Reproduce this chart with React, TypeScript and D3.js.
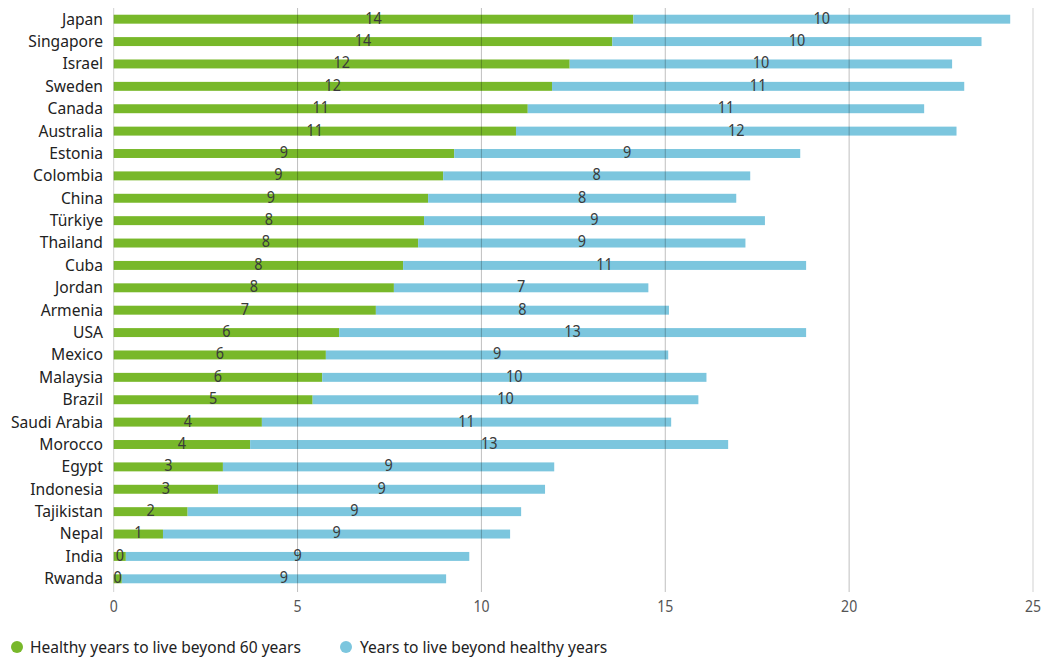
import React from "react";
import * as d3 from "d3";

const countries = [
  "Japan", "Singapore", "Israel", "Sweden", "Canada", "Australia", "Estonia", "Colombia",
  "China", "Türkiye", "Thailand", "Cuba", "Jordan", "Armenia", "USA", "Mexico", "Malaysia",
  "Brazil", "Saudi Arabia", "Morocco", "Egypt", "Indonesia", "Tajikistan", "Nepal", "India", "Rwanda",
];
const healthyYears = [
  14.13, 13.56, 12.4, 11.92, 11.26, 10.94, 9.26, 8.96, 8.55, 8.44, 8.28, 7.87, 7.62, 7.13,
  6.13, 5.77, 5.67, 5.41, 4.03, 3.71, 2.97, 2.84, 2.01, 1.34, 0.33, 0.22,
];
const unhealthyYears = [
  10.25, 10.04, 10.4, 11.21, 10.78, 11.98, 9.41, 8.35, 8.38, 9.27, 8.9, 10.96, 6.92, 7.97,
  12.7, 9.31, 10.45, 10.49, 11.13, 13.0, 9.01, 8.89, 9.07, 9.44, 9.34, 8.82,
];
const xTicks = [0, 5, 10, 15, 20, 25];
const seriesNames = ["Healthy years to live beyond 60 years", "Years to live beyond healthy years"];
const seriesColors = ["#78b82a", "#7cc6de"];

const W = 1046;
const H = 659;
const FONT = "'Noto Sans', sans-serif";

function CText(props: {
  x: number; y: number; anchor?: string; size: number; sx: number; fill: string; children: React.ReactNode;
}) {
  return (
    <text
      transform={`translate(${props.x},${props.y}) scale(${props.sx},1)`}
      dy="0.35em"
      textAnchor={props.anchor || "start"}
      fontFamily={FONT}
      fontSize={props.size}
      fill={props.fill}
    >
      {props.children}
    </text>
  );
}

export default function App() {
  const x = d3.scaleLinear().domain([0, 25]).range([113.7, 1033]);
  const y = d3.scaleBand<string>().domain(countries).range([8, 590]).paddingInner(0.6).paddingOuter(0.3);
  const bw = y.bandwidth();
  const fmt = d3.format(".0f");

  return (
    <svg width={W} height={H} style={{ position: "absolute", left: 0, top: 0, background: "#fff" }}>
      {countries.map((c, i) => {
        const g = healthyYears[i];
        const b = unhealthyYears[i];
        const yy = y(c)!;
        const cy = yy + bw / 2;
        return (
          <g key={c}>
            <rect x={x(0)} y={yy} width={x(g) - x(0)} height={bw} fill={seriesColors[0]} />
            <rect x={x(g)} y={yy} width={x(g + b) - x(g)} height={bw} fill={seriesColors[1]} />
            <CText x={103} y={cy - 0.5} anchor="end" size={17} sx={0.92} fill="#222">
              {c}
            </CText>
          </g>
        );
      })}
      {xTicks.map((t) => (
        <g key={t}>
          <line x1={x(t)} x2={x(t)} y1={8} y2={592} stroke="#000" strokeOpacity={t === 0 || t === 25 ? 0.18 : 0.25} strokeWidth={1} />
          <CText x={x(t)} y={606} anchor="middle" size={16} sx={0.88} fill="#555">
            {t}
          </CText>
        </g>
      ))}
      {countries.map((c, i) => {
        const g = healthyYears[i];
        const b = unhealthyYears[i];
        const cy = y(c)! + bw / 2 - 1.5;
        return (
          <g key={c + "-lbl"}>
            <CText x={(x(0) + x(g)) / 2} y={cy} anchor="middle" size={17} sx={0.85} fill="#3a3a3a">
              {fmt(g)}
            </CText>
            <CText x={(x(g) + x(g + b)) / 2} y={cy} anchor="middle" size={17} sx={0.85} fill="#3a3a3a">
              {fmt(b)}
            </CText>
          </g>
        );
      })}
      <circle cx={17} cy={647} r={6} fill={seriesColors[0]} />
      <CText x={30} y={647} size={17} sx={0.915} fill="#222">{seriesNames[0]}</CText>
      <circle cx={346} cy={647} r={6} fill={seriesColors[1]} />
      <CText x={360} y={647} size={17} sx={0.915} fill="#222">{seriesNames[1]}</CText>
    </svg>
  );
}
